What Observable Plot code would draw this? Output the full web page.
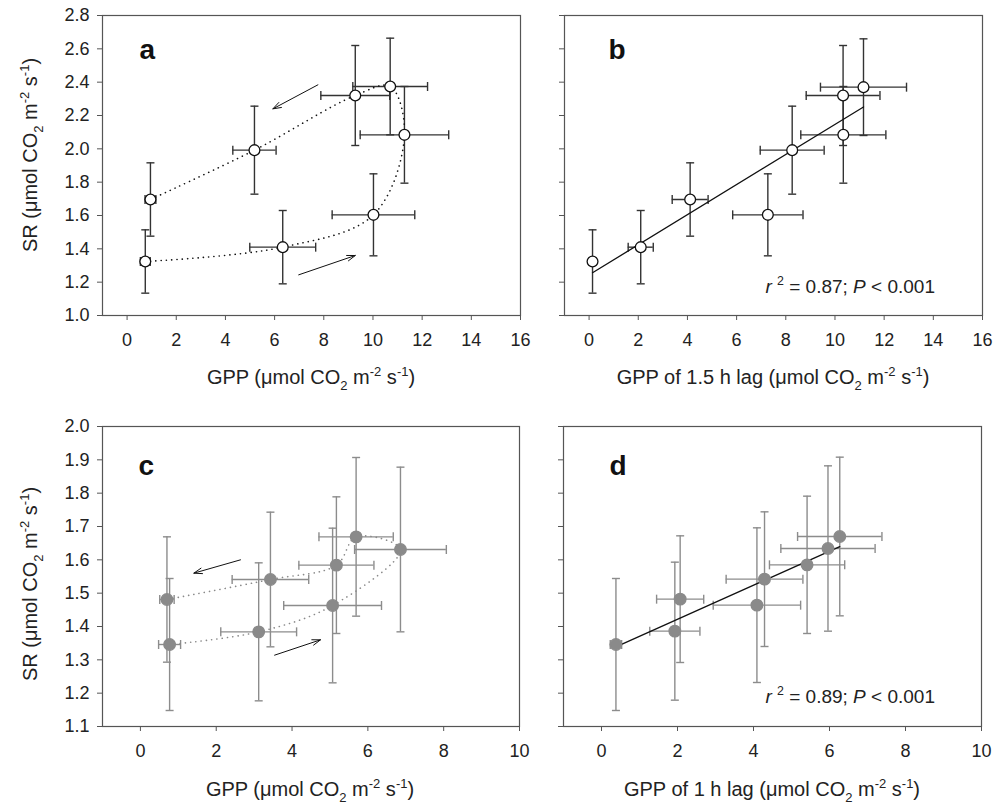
<!DOCTYPE html>
<html><head><meta charset="utf-8">
<script src="https://cdn.jsdelivr.net/npm/d3@7"></script>
<script src="https://cdn.jsdelivr.net/npm/@observablehq/plot@0.6"></script>
<style>
html,body{margin:0;padding:0;background:#fff;}
#wrap{position:relative;width:993px;height:807px;overflow:hidden;background:#fff;font-family:"Liberation Sans",Arial,sans-serif;}
#wrap svg{position:absolute;overflow:visible;}
</style></head><body><div id="wrap"></div>
<script>
// ---- Panel a: SR vs GPP (points in time order) ----
const aGPP    = [0.74, 6.33, 10.02, 11.28, 10.70, 9.28, 5.18, 0.95];
const aGPPerr = [0.20, 1.34, 1.68, 1.80, 1.52, 1.40, 0.88, 0.22];
const aSR     = [1.324, 1.410, 1.604, 2.084, 2.374, 2.320, 1.992, 1.696];
const aSRerr  = [0.19, 0.22, 0.246, 0.29, 0.29, 0.30, 0.264, 0.22];
const aArrows = [{x1: 7.76, y1: 2.384, x2: 5.93, y2: 2.24}, {x1: 6.98, y1: 1.244, x2: 9.28, y2: 1.36}];

// ---- Panel b: SR vs GPP of 1.5 h lag ----
const bGPP    = [0.14, 2.10, 4.11, 7.27, 8.26, 10.33, 11.16, 10.34];
const bGPPerr = [0, 0.51, 0.73, 1.43, 1.30, 1.50, 1.75, 1.73];
const bSR     = [1.324, 1.410, 1.696, 1.604, 1.992, 2.320, 2.370, 2.084];
const bSRerr  = [0.19, 0.22, 0.22, 0.246, 0.264, 0.30, 0.29, 0.29];

// ---- Panel c: SR vs GPP (points in time order) ----
const cGPP    = [0.77, 3.12, 5.07, 6.86, 5.69, 5.17, 3.43, 0.70];
const cGPPerr = [0.29, 1.00, 1.29, 1.21, 0.98, 0.99, 1.01, 0.19];
const cSR     = [1.346, 1.384, 1.463, 1.631, 1.669, 1.584, 1.541, 1.481];
const cSRerr  = [0.198, 0.207, 0.232, 0.247, 0.238, 0.205, 0.202, 0.188];
const cArrows = [{x1: 2.64, y1: 1.60, x2: 1.41, y2: 1.56}, {x1: 3.54, y1: 1.314, x2: 4.75, y2: 1.36}];

// ---- Panel d: SR vs GPP of 1 h lag ----
const dGPP    = [0.38, 1.93, 2.07, 4.09, 4.29, 5.41, 5.96, 6.27];
const dGPPerr = [0.15, 0.66, 0.62, 1.15, 1.01, 0.99, 1.24, 1.11];
const dSR     = [1.346, 1.386, 1.482, 1.464, 1.542, 1.585, 1.634, 1.670];
const dSRerr  = [0.198, 0.207, 0.190, 0.232, 0.202, 0.206, 0.248, 0.238];

// ---- ticks ----
const abXTicks = [0, 2, 4, 6, 8, 10, 12, 14, 16];
const abYTicks = [1.0, 1.2, 1.4, 1.6, 1.8, 2.0, 2.2, 2.4, 2.6, 2.8];
const cdXTicks = [0, 2, 4, 6, 8, 10];
const cdYTicks = [1.1, 1.2, 1.3, 1.4, 1.5, 1.6, 1.7, 1.8, 1.9, 2.0];

const panelLabels = ["a", "b", "c", "d"];
const statsB = ["0.87", "0.001"];
const statsD = ["0.89", "0.001"];

const FONT = '"Liberation Sans", Arial, sans-serif';
const hCap = {draw(ctx, size) { const r = Math.sqrt(size / Math.PI); ctx.moveTo(-r, 0); ctx.lineTo(r, 0); }};
const vCap = {draw(ctx, size) { const r = Math.sqrt(size / Math.PI); ctx.moveTo(0, -r); ctx.lineTo(0, r); }};

function rows(gpp, ge, sr, se) {
  return gpp.map((x, i) => ({x, xe: ge[i], y: sr[i], ye: se[i]}));
}

function panel(o) {
  const data = rows(o.gpp, o.ge, o.sr, o.se);
  const withX = data.filter(d => d.xe > 0);
  const marks = [
    Plot.ruleX(data, {x: "x", y1: d => d.y - d.ye, y2: d => d.y + d.ye, stroke: o.bar, strokeWidth: 1.4}),
    Plot.ruleY(withX, {y: "y", x1: d => d.x - d.xe, x2: d => d.x + d.xe, stroke: o.bar, strokeWidth: 1.4}),
    Plot.dot(data, {x: "x", y: d => d.y + d.ye, symbol: hCap, r: 4, stroke: o.bar, fill: "none", strokeWidth: 1.4}),
    Plot.dot(data, {x: "x", y: d => d.y - d.ye, symbol: hCap, r: 4, stroke: o.bar, fill: "none", strokeWidth: 1.4}),
    Plot.dot(withX, {x: d => d.x - d.xe, y: "y", symbol: vCap, r: 4.5, stroke: o.bar, fill: "none", strokeWidth: 1.4}),
    Plot.dot(withX, {x: d => d.x + d.xe, y: "y", symbol: vCap, r: 4.5, stroke: o.bar, fill: "none", strokeWidth: 1.4})
  ];
  if (o.dotted) marks.push(Plot.line(data, {x: "x", y: "y", curve: "catmull-rom", stroke: o.dotted, strokeWidth: 1.6, strokeDasharray: "0.1 5.2", strokeLinecap: "round"}));
  if (o.regression) marks.push(Plot.linearRegressionY(data, {x: "x", y: "y", ci: 0, stroke: "#111", strokeWidth: 1.3}));
  marks.push(Plot.dot(data, {x: "x", y: "y", r: o.r, fill: o.fill, stroke: o.stroke, strokeWidth: 1.3}));
  if (o.arrows) marks.push(Plot.arrow(o.arrows, {x1: "x1", y1: "y1", x2: "x2", y2: "y2", stroke: "#111", strokeWidth: 1, headLength: 13, headAngle: 38}));
  marks.push(Plot.text([o.label], {text: d => d, frameAnchor: "top-left", dx: o.labelDx, dy: o.labelDy, lineAnchor: "top", textAnchor: "start", fontSize: 28, fontWeight: "bold", fill: "#111"}));
  marks.push(Plot.frame({stroke: "#555", strokeWidth: 1.2}));
  marks.push(Plot.axisX({ticks: o.xTicks, tickSize: 5, tickPadding: 13, label: null, fontSize: 18, stroke: "#555", fill: "#222"}));
  marks.push(Plot.axisY({ticks: o.yTicks, tickFormat: o.yLabels ? d3.format(".1f") : () => "", tickSize: 5, tickPadding: 8, label: null, fontSize: 18, stroke: "#555", fill: "#222"}));
  const svg = Plot.plot({
    width: o.width, height: o.height,
    marginLeft: o.ml, marginRight: o.mr, marginTop: o.mt, marginBottom: o.mb,
    x: {domain: o.xDomain}, y: {domain: o.yDomain},
    style: {fontFamily: FONT, fontSize: "18px", color: "#222", background: "transparent", overflow: "visible"},
    marks
  });
  svg.style.left = o.left + "px";
  svg.style.top = o.top + "px";
  document.getElementById("wrap").appendChild(svg);
  return svg;
}

function richText(svg, {x, y, rotate = 0, anchor = "middle", size, parts}) {
  const t = d3.select(svg).append("text")
    .attr("transform", `translate(${x},${y}) rotate(${rotate})`)
    .attr("text-anchor", anchor).attr("font-size", size).attr("font-family", FONT)
    .attr("fill", "#222").style("white-space", "pre");
  let shift = 0;
  for (const p of parts) {
    const target = p.sub ? size * 0.28 : p.sup ? -size * 0.42 : 0;
    const ts = t.append("tspan").text(p.t).attr("dy", target - shift);
    if (p.sub || p.sup) ts.attr("font-size", size * 0.65);
    if (p.italic) ts.attr("font-style", "italic");
    shift = target;
  }
}

const unitParts = [{t: "\u03bcmol CO"}, {t: "2", sub: true}, {t: " m"}, {t: "-2", sup: true}, {t: " s"}, {t: "-1", sup: true}, {t: ")"}];
const srTitle = [{t: "SR ("}, ...unitParts];
const gppTitle = [{t: "GPP ("}, ...unitParts];
const gppLag15 = [{t: "GPP of 1.5 h lag ("}, ...unitParts];
const gppLag1 = [{t: "GPP of 1 h lag ("}, ...unitParts];
function stats(vals) {
  return [{t: "r", italic: true}, {t: " "}, {t: "2", sup: true}, {t: " = " + vals[0] + "; "}, {t: "P", italic: true}, {t: " < " + vals[1]}];
}

const rowTop = {width: 530, height: 400, mt: 15, mb: 85, top: 0, xTicks: abXTicks, yTicks: abYTicks, xDomain: [-1, 16], yDomain: [1.0, 2.8], labelDy: 24};
const rowBot = {width: 530, height: 397, mt: 16, mb: 81, top: 410, xTicks: cdXTicks, yTicks: cdYTicks, xDomain: [-1, 10], yDomain: [1.1, 2.0], labelDy: 29};
const openStyle = {bar: "#333", fill: "#fff", stroke: "#111", r: 5.4};
const grayStyle = {bar: "#8c8c8c", fill: "#8a8a8a", stroke: "#8a8a8a", r: 5.8};

const sa = panel({...rowTop, ...openStyle, left: 0, ml: 102, mr: 10, yLabels: true, gpp: aGPP, ge: aGPPerr, sr: aSR, se: aSRerr, dotted: "#111", arrows: aArrows, label: panelLabels[0], labelDx: 37});
const sb = panel({...rowTop, ...openStyle, left: 462, ml: 102, mr: 10, yLabels: false, gpp: bGPP, ge: bGPPerr, sr: bSR, se: bSRerr, regression: true, label: panelLabels[1], labelDx: 44});
const sc = panel({...rowBot, ...grayStyle, left: 0, ml: 102, mr: 11, yLabels: true, gpp: cGPP, ge: cGPPerr, sr: cSR, se: cSRerr, dotted: "#8a8a8a", arrows: cArrows, label: panelLabels[2], labelDx: 36});
const sd = panel({...rowBot, ...grayStyle, left: 462, ml: 101, mr: 11, yLabels: false, gpp: dGPP, ge: dGPPerr, sr: dSR, se: dSRerr, regression: true, label: panelLabels[3], labelDx: 46});

richText(sa, {x: 37, y: 155, rotate: -90, size: 20, parts: srTitle});
richText(sa, {x: 311, y: 384, size: 20, parts: gppTitle});
richText(sb, {x: 311, y: 384, size: 20, parts: gppLag15});
richText(sb, {x: 473, y: 293, anchor: "end", size: 19, parts: stats(statsB)});
richText(sc, {x: 37, y: 174, rotate: -90, size: 20, parts: srTitle});
richText(sc, {x: 310, y: 386, size: 20, parts: gppTitle});
richText(sd, {x: 310, y: 386, size: 20, parts: gppLag1});
richText(sd, {x: 473, y: 293, anchor: "end", size: 19, parts: stats(statsD)});
</script></body></html>
